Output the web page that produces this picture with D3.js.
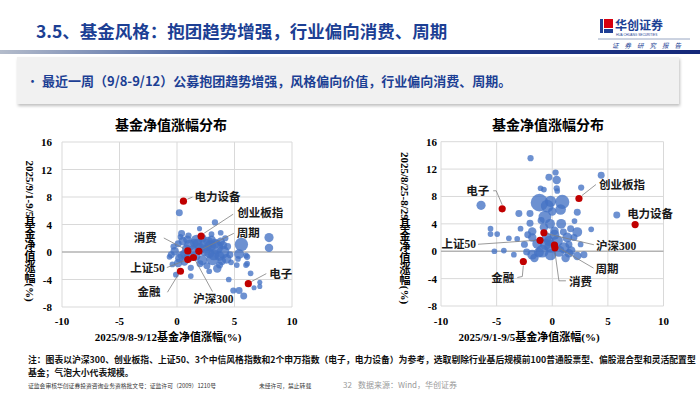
<!DOCTYPE html>
<html>
<head>
<meta charset="utf-8">
<script src="https://cdn.jsdelivr.net/npm/d3@7"></script>
<style>
  body { margin: 0; background: #fff; }
  svg { display: block; }
  .cjk { font-family: "Noto Sans CJK SC", "Noto Sans", sans-serif; }
  .ser { font-family: "Liberation Serif", "Noto Sans CJK SC", serif; font-weight: bold; }
</style>
</head>
<body>
<svg id="chart" width="700" height="394"></svg>
<script>
// ---- data ----
var xTicks = [-10, -5, 0, 5, 10];
var yTicks = [-8, -4, 0, 4, 8, 12, 16];

var indexNames = ["电力设备", "创业板指", "周期", "消费", "上证50", "沪深300", "金融", "电子"];

// left: x = 9/8-9/12, y = 9/1-9/5
var leftIdxX = [0.56, 2.1, 1.9, 0.94, 0.94, 1.43, 0.3, 6.2];
var leftIdxY = [7.4, 2.3, 0.1, 0.15, -1.1, -0.8, -2.8, -4.6];

var leftFundX = [0.2, 3.3, 1.96, 0.4, 0.3, 3.0, 3.8, 8.0, 8.0, 5.6, 5.4, 6.1, 6.1, 5.2, 6.0, 6.4, 4.5, 7.2, 7.2, 6.7,
  4.9, 5.4, 5.8, 1.2, -0.1, 2.8, -0.65, -0.4, 0.1, 1.7, 1.1, 2.5, 3.4, 4.0, 4.3, 3.1, 2.2, 0.4, -0.2, -0.5,
  0.65, 1.2, 2.0, 3.7, 4.7, 5.3, 6.0, 0.5, 0.1, 1.4, 2.8, 3.7, 2.2, 3.0, 3.8, 4.4, 1.6, 0.8, 2.0, 4.6,
  1.0, 3.5, 2.6, -0.3, 1.5, 4.2, 0.7, 3.3, 1.0, 2.4, 3.2, 0.2, 1.8, 2.7, 4.0, 3.9, 0.9, 2.9];
var leftFundY = [5.7, 4.3, 3.4, 2.7, 2.2, 2.6, 2.8, 2.1, 0.6, 1.1, -0.3, -0.7, -1.7, -1.9, -1.9, -3.1, -4.0, -4.4, -5.0, -5.2,
  -5.6, -5.6, -6.4, -3.5, -3.3, -2.8, -0.7, -1.8, -1.6, 1.7, 1.0, 1.0, 0.7, 0.0, -1.0, -1.0, -1.2, -0.5, 0.1, -0.4,
  -1.5, -2.3, -1.7, -1.9, -1.5, -1.0, -0.5, 1.6, 1.2, 0.3, -0.2, -0.6, 2.0, 1.8, 1.5, 0.8, -0.6, 0.5, 0.5, -0.4,
  2.4, -2.4, -2.0, 0.8, 1.3, 2.0, -0.3, 1.2, -0.8, 0.2, -0.4, -0.9, 1.2, 1.5, 1.0, -1.3, 1.8, 0.9];
var leftFundSize = [15, 12, 8, 15, 10, 10, 10, 26, 22, 55, 30, 12, 10, 10, 10, 10, 10, 8, 8, 8,
  12, 15, 15, 10, 10, 10, 10, 10, 22, 39, 39, 50, 62, 50, 30, 50, 30, 22, 22, 15,
  15, 12, 15, 15, 10, 10, 10, 22, 15, 30, 30, 30, 22, 22, 22, 15, 30, 22, 39, 15,
  12, 22, 15, 12, 22, 12, 30, 30, 30, 39, 39, 22, 30, 30, 22, 22, 22, 39];

// right: x = 9/1-9/5, y = 8/25-8/29
var rightIdxX = [7.45, 2.4, 0.2, 0.24, -1.1, -0.75, -2.6, -4.5];
var rightIdxY = [3.9, 7.7, 0.9, 0.5, 1.6, 2.7, -1.5, 6.2];

var rightFundX = [-1.95, 0.3, 4.4, -0.3, 0.4, -1.05, -0.75, 0.4, 0.45, 2.6, -6.4, -1.15, -0.15, 0.9, -0.45, 0.75, -3.0, -2.0, 2.25, -0.66,
  5.8, -2.0, 0.8, 2.0, -0.75, -5.55, -4.95, -5.55, -2.85, -1.8, 1.65, 2.25, 3.5, -3.9, -3.15, -1.8, 0.45, 1.35, 1.95, 2.55,
  -5.2, -4.35, -3.45, -1.8, -1.6, -0.15, 1.2, 2.25, 2.85, -0.9, -0.15, -1.35, 1.05, -0.5, 0.2, -1.0, 1.5, -2.5, 0.0, -0.3,
  1.0, -2.3, -0.6, 0.6, -1.2, 1.7, -0.2, 0.2, -2.2, 1.5];
var rightFundY = [13.6, 11.5, 11.1, 10.8, 10.4, 9.2, 9.0, 9.2, 8.8, 9.3, 6.7, 7.1, 7.3, 7.2, 6.6, 6.1, 5.5, 5.5, 5.7, 5.0,
  5.3, 4.1, 4.0, 4.4, 3.5, 3.3, 2.5, 2.5, 3.3, 2.9, 3.3, 2.8, 3.2, 1.9, 1.8, 2.0, 1.5, 2.0, 2.0, 1.0,
  0.0, 0.1, -0.5, -0.5, -1.0, -0.5, -1.0, -0.7, -0.5, 0.0, 0.7, 1.1, 0.5, 2.0, 3.0, 4.5, 1.0, 1.0, 5.8, 1.5,
  2.8, -0.1, 1.0, 0.0, -0.2, 0.1, 4.0, 2.4, 2.4, -0.3];
var rightFundSize = [12, 12, 15, 15, 22, 10, 10, 12, 10, 12, 26, 95, 39, 62, 50, 35, 15, 15, 15, 50,
  15, 15, 30, 10, 22, 10, 10, 10, 10, 22, 15, 30, 10, 10, 10, 22, 39, 30, 15, 10,
  10, 10, 10, 30, 22, 39, 22, 22, 15, 50, 50, 30, 39, 30, 22, 15, 15, 15, 22, 30,
  15, 15, 39, 39, 30, 22, 30, 30, 15, 22];

// ---- layout ----
var svg = d3.select("#chart");
var blue = "#1c3f94";

var defs = svg.append("defs");
var grad = defs.append("linearGradient").attr("id", "bar");
grad.append("stop").attr("offset", "0%").attr("stop-color", "#b4bccb");
grad.append("stop").attr("offset", "35%").attr("stop-color", "#2f4f9a");
grad.append("stop").attr("offset", "100%").attr("stop-color", "#15287a");
var sh = defs.append("filter").attr("id", "shadow").attr("x", "-5%").attr("y", "-20%").attr("width", "110%").attr("height", "150%");
sh.append("feDropShadow").attr("dx", 1).attr("dy", 2).attr("stdDeviation", 1.5).attr("flood-color", "#000").attr("flood-opacity", 0.25);

// header
svg.append("text").attr("class", "cjk")
    .attr("x", 36).attr("y", 38)
    .style("font-size", "17.5px").style("font-weight", 700).attr("fill", blue)
    .text("3.5、基金风格：抱团趋势增强，行业偏向消费、周期");

// logo
svg.append("rect").attr("x", 600).attr("y", 19).attr("width", 3).attr("height", 14).attr("fill", "#1f3f95");
svg.append("rect").attr("x", 604).attr("y", 19).attr("width", 9).attr("height", 9).attr("fill", "#d7000f");
svg.append("rect").attr("x", 604).attr("y", 29).attr("width", 9).attr("height", 4).attr("fill", "#1f3f95");
svg.append("text").attr("class", "cjk").attr("x", 615).attr("y", 30)
    .style("font-size", "12px").style("font-weight", 700).attr("fill", blue).text("华创证券");
svg.append("text").attr("x", 616).attr("y", 35.5)
    .style("font-family", "Liberation Sans").style("font-size", "3.2px").attr("fill", blue).text("HUA CHUANG SECURITIES");
svg.append("line").attr("x1", 598).attr("x2", 690).attr("y1", 39).attr("y2", 39)
    .attr("stroke", "#7f8fb3").attr("stroke-width", 0.8);
svg.append("text").attr("class", "cjk").attr("x", 612).attr("y", 47.5)
    .style("font-size", "6.5px").style("font-style", "italic").style("letter-spacing", "6px")
    .attr("fill", blue).text("证券研究报告");

svg.append("rect").attr("x", 0).attr("y", 50).attr("width", 700).attr("height", 4).attr("fill", "url(#bar)");

// summary box
svg.append("rect").attr("x", 17).attr("y", 57).attr("width", 662).attr("height", 47)
    .attr("fill", "#f1f1f1").attr("filter", "url(#shadow)");
svg.append("text").attr("class", "cjk").attr("x", 26).attr("y", 86)
    .style("font-size", "13px").attr("fill", blue).text("•");
svg.append("text").attr("class", "cjk").attr("x", 42).attr("y", 86)
    .style("font-size", "13px").style("font-weight", 700).attr("fill", blue)
    .text("最近一周（9/8-9/12）公募抱团趋势增强，风格偏向价值，行业偏向消费、周期。");

// ---- charts ----
var rScale = d3.scaleSqrt().domain([0, 100]).range([0, 9]);
var isCJK = /[\u4e00-\u9fff]/;

// vertical axis title: CJK upright, latin runs turned 90deg
function verticalTitle(g, text, cx, cy, size) {
    var grp = g.append("g");
    var cursor = 0;
    text.match(/[\u4e00-\u9fff]|[^\u4e00-\u9fff]+/g).forEach(function (s) {
        if (isCJK.test(s)) {
            grp.append("text").attr("class", "ser")
                .attr("x", 0).attr("y", cursor + size / 2)
                .attr("text-anchor", "middle").attr("dominant-baseline", "central")
                .style("font-size", size + "px").text(s);
            cursor += size;
        } else {
            var t = grp.append("text").attr("class", "ser")
                .attr("transform", "translate(0," + cursor + ") rotate(90)")
                .attr("dominant-baseline", "central")
                .style("font-size", size + "px").text(s);
            cursor += t.node().getComputedTextLength();
        }
    });
    grp.attr("transform", "translate(" + cx + "," + (cy - cursor / 2) + ")");
}

function drawChart(cfg) {
    var x = d3.scaleLinear().domain([-10, 10]).range([cfg.x0, cfg.x1]);
    var y = d3.scaleLinear().domain([-8, 16]).range([cfg.y1, cfg.y0]);
    var g = svg.append("g");

    g.append("text").attr("class", "ser")
        .attr("x", cfg.titleX).attr("y", 125).attr("text-anchor", "middle").attr("dominant-baseline", "central")
        .style("font-size", "14px").text("基金净值涨幅分布");

    // grid
    g.selectAll(".gx").data(xTicks).enter().append("line")
        .attr("x1", x).attr("x2", x).attr("y1", cfg.y0).attr("y2", cfg.y1)
        .attr("stroke", "#d9d9d9").attr("stroke-width", 1);
    g.selectAll(".gy").data(yTicks).enter().append("line")
        .attr("x1", cfg.x0).attr("x2", cfg.x1).attr("y1", y).attr("y2", y)
        .attr("stroke", function (d) { return d === 0 ? "#b3b3b3" : "#d9d9d9"; })
        .attr("stroke-width", function (d) { return d === 0 ? 1.3 : 1; });

    // tick labels
    g.selectAll(".tx").data(xTicks).enter().append("text").attr("class", "ser")
        .attr("x", x).attr("y", 321).attr("text-anchor", "middle").attr("dominant-baseline", "central")
        .style("font-size", "11px").text(function (d) { return d; });
    g.selectAll(".ty").data(yTicks).enter().append("text").attr("class", "ser")
        .attr("x", cfg.tickRight).attr("y", y).attr("text-anchor", "end").attr("dominant-baseline", "central")
        .style("font-size", "11px").text(function (d) { return d; });

    // axis titles
    g.append("text").attr("class", "ser")
        .attr("x", cfg.xTitleX).attr("y", 337).attr("text-anchor", "middle").attr("dominant-baseline", "central")
        .style("font-size", "11px").text(cfg.xTitle);
    verticalTitle(g, cfg.yTitle, cfg.yTitleX, cfg.yTitleY, 11);

    // fund bubbles
    var funds = cfg.fx.map(function (v, i) { return { x: v, y: cfg.fy[i], s: cfg.fs[i] }; });
    funds.sort(function (a, b) { return b.s - a.s; });
    g.selectAll(".fund").data(funds).enter().append("circle")
        .attr("cx", function (d) { return x(d.x); })
        .attr("cy", function (d) { return y(d.y); })
        .attr("r", function (d) { return rScale(d.s); })
        .attr("fill", "#4472c4").attr("fill-opacity", 0.78);

    // index markers
    var idx = indexNames.map(function (n, i) { return { name: n, x: cfg.ix[i], y: cfg.iy[i] }; });
    var line = d3.line();
    idx.forEach(function (d) {
        var L = cfg.labels[d.name];
        var px = x(d.x), py = y(d.y);
        if (L.line) {
            g.append("path")
                .attr("d", line(L.line.map(function (p) { return [px + p[0], py + p[1]]; })))
                .attr("fill", "none").attr("stroke", "#808080").attr("stroke-width", 0.8);
        }
    });
    g.selectAll(".idx").data(idx).enter().append("circle")
        .attr("cx", function (d) { return x(d.x); })
        .attr("cy", function (d) { return y(d.y); })
        .attr("r", 3.6).attr("fill", "#c00000");
    g.selectAll(".lab").data(idx).enter().append("text").attr("class", "ser")
        .attr("x", function (d) { return x(d.x) + cfg.labels[d.name].tx; })
        .attr("y", function (d) { return y(d.y) + cfg.labels[d.name].ty; })
        .attr("text-anchor", function (d) { return cfg.labels[d.name].a; })
        .attr("dominant-baseline", "central")
        .style("font-size", "11.5px").attr("fill", "#1a1a1a")
        .text(function (d) { return d.name; });
}

drawChart({
    x0: 62, x1: 292, y0: 142, y1: 307, tickRight: 52, titleX: 171,
    xTitleX: 168, xTitle: "2025/9/8-9/12基金净值涨幅(%)",
    yTitleX: 30, yTitleY: 231, yTitle: "2025/9/1-9/5基金净值涨幅(%)",
    fx: leftFundX, fy: leftFundY, fs: leftFundSize, ix: leftIdxX, iy: leftIdxY,
    labels: {
        "电力设备": { tx: 11, ty: -4, a: "start", line: [[4, -2], [9, -4]] },
        "创业板指": { tx: 36, ty: -23, a: "start", line: [[3, -3], [32, -22]] },
        "周期": { tx: 38, ty: -18, a: "start", line: [[3, -2], [35, -18]] },
        "消费": { tx: -31, ty: -13, a: "end", line: [[-3, -2], [-24, -13]] },
        "上证50": { tx: -23, ty: 8, a: "end", line: [[-3, 1], [-21, 8]] },
        "沪深300": { tx: 20, ty: 41, a: "middle", line: [[2, 3], [19, 34]] },
        "金融": { tx: -20, ty: 21, a: "end", line: [[-2, 3], [-13, 21]] },
        "电子": { tx: 21, ty: -10, a: "start", line: [[3, -2], [18, -10]] }
    }
});

drawChart({
    x0: 441, x1: 663.5, y0: 141.7, y1: 306, tickRight: 437, titleX: 548,
    xTitleX: 529, xTitle: "2025/9/1-9/5基金净值涨幅(%)",
    yTitleX: 405, yTitleY: 228, yTitle: "2025/8/25-8/29基金净值涨幅(%)",
    fx: rightFundX, fy: rightFundY, fs: rightFundSize, ix: rightIdxX, iy: rightIdxY,
    labels: {
        "电子": { tx: -13, ty: -18, a: "end", line: [[0, -4], [-6, -18], [-9, -18]] },
        "创业板指": { tx: 20, ty: -14, a: "start", line: [[3, -3], [17, -14]] },
        "电力设备": { tx: -8, ty: -11, a: "start" },
        "沪深300": { tx: 52, ty: 13, a: "start", line: [[3, 1], [50, 12]] },
        "上证50": { tx: -64, ty: 4, a: "end", line: [[-4, 0], [-62, 4]] },
        "周期": { tx: 41, ty: 24, a: "start", line: [[3, 2], [39, 23]] },
        "消费": { tx: 14, ty: 34, a: "start", line: [[0, 4], [4, 33], [11, 33]] },
        "金融": { tx: -9, ty: 16, a: "end", line: [[0, 4], [-1, 15], [-6, 16]] }
    }
});

// ---- footer ----
svg.append("text").attr("class", "cjk").attr("x", 28).attr("y", 363)
    .style("font-size", "8.8px").style("font-weight", 700).attr("fill", "#111")
    .text("注：图表以沪深300、创业板指、上证50、3个中信风格指数和2个申万指数（电子，电力设备）为参考，选取剔除行业基后规模前100普通股票型、偏股混合型和灵活配置型");
svg.append("text").attr("class", "cjk").attr("x", 28).attr("y", 376)
    .style("font-size", "8.8px").style("font-weight", 700).attr("fill", "#111")
    .text("基金；气泡大小代表规模。");
svg.append("text").attr("class", "cjk").attr("x", 28).attr("y", 388)
    .style("font-size", "5.8px").attr("fill", "#333")
    .text("证监会审核华创证券投资咨询业务资格批文号：证监许可（2009）1210号");
svg.append("text").attr("class", "cjk").attr("x", 259).attr("y", 388)
    .style("font-size", "5.8px").attr("fill", "#333").text("未经许可，禁止转载");
svg.append("text").attr("class", "cjk").attr("x", 343).attr("y", 388)
    .style("font-size", "8px").attr("fill", "#9a9a9a").text("32");
svg.append("text").attr("class", "cjk").attr("x", 358).attr("y", 388)
    .style("font-size", "8px").attr("fill", "#9a9a9a").text("数据来源：Wind，华创证券");
</script>
</body>
</html>
